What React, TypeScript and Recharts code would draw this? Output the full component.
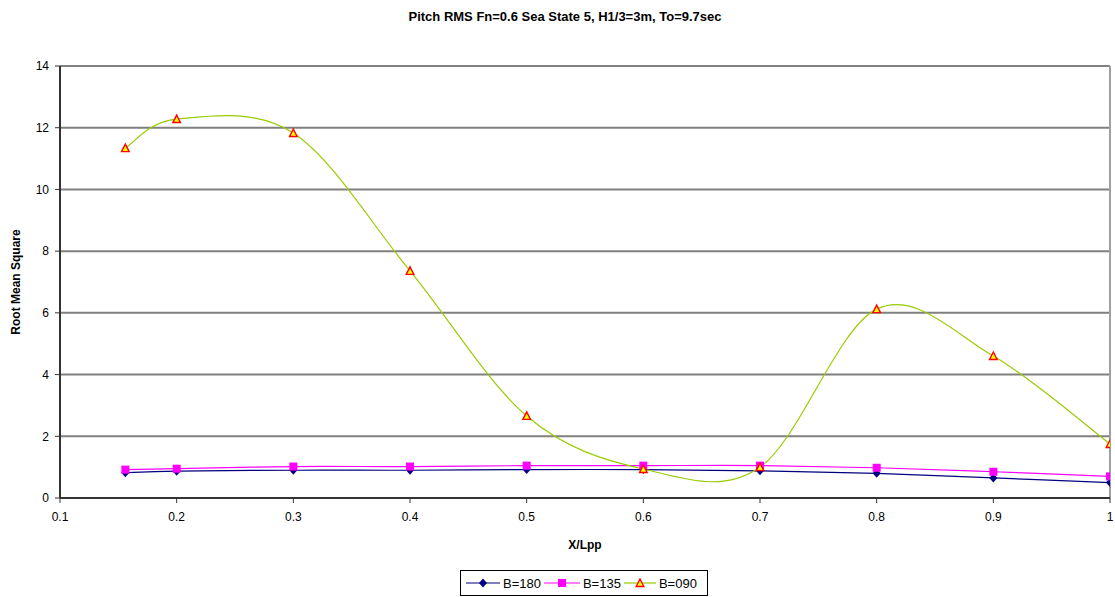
import { LineChart, Line, XAxis, YAxis, CartesianGrid, ReferenceLine, Label } from "recharts";

// X/Lpp stations
const xLpp = [0.156, 0.2, 0.3, 0.4, 0.5, 0.6, 0.7, 0.8, 0.9, 1.0];
// RMS per heading
const b180 = [0.82, 0.87, 0.9, 0.9, 0.92, 0.92, 0.88, 0.8, 0.65, 0.5];
const b135 = [0.92, 0.95, 1.02, 1.02, 1.05, 1.05, 1.05, 0.98, 0.85, 0.7];
const b090 = [11.34, 12.28, 11.83, 7.36, 2.66, 0.94, 1.0, 6.12, 4.6, 1.75];

const xTicks = [0.1, 0.2, 0.3, 0.4, 0.5, 0.6, 0.7, 0.8, 0.9, 1];
const yTicks = [0, 2, 4, 6, 8, 10, 12, 14];

const FONT = "'Liberation Sans', Arial, sans-serif";

const data = xLpp.map((x, i) => ({ x, b180: b180[i], b135: b135[i], b090: b090[i] }));

// Excel-style smoothed line (cardinal spline, control points at 1/6 of neighbour span)
const smoothCurve = (context: any) => {
  let pts: number[][] = [];
  return {
    areaStart() {},
    areaEnd() {},
    lineStart() { pts = []; },
    point(x: number, y: number) { pts.push([+x, +y]); },
    lineEnd() {
      const n = pts.length;
      if (!n) return;
      context.moveTo(pts[0][0], pts[0][1]);
      for (let i = 0; i < n - 1; i++) {
        const p0 = pts[Math.max(i - 1, 0)];
        const p1 = pts[i];
        const p2 = pts[i + 1];
        const p3 = pts[Math.min(i + 2, n - 1)];
        context.bezierCurveTo(
          p1[0] + (p2[0] - p0[0]) / 6, p1[1] + (p2[1] - p0[1]) / 6,
          p2[0] - (p3[0] - p1[0]) / 6, p2[1] - (p3[1] - p1[1]) / 6,
          p2[0], p2[1],
        );
      }
    },
  };
};

const Diamond = ({ cx, cy }: any) => (
  <polygon points={`${cx},${cy - 4.5} ${cx + 4},${cy} ${cx},${cy + 4.5} ${cx - 4},${cy}`} fill="#000080" />
);
const Square = ({ cx, cy }: any) => (
  <rect x={cx - 4} y={cy - 4} width={8} height={8} fill="#FF00FF" />
);
const Triangle = ({ cx, cy }: any) => (
  <polygon points={`${cx},${cy - 4} ${cx + 3.8},${cy + 3.5} ${cx - 3.8},${cy + 3.5}`} fill="#FFFF00" stroke="#FF0000" strokeWidth={1.4} />
);

const legendItems = [
  { name: "B=180", color: "#000080", Icon: Diamond, w: 34 },
  { name: "B=135", color: "#FF00FF", Icon: Square, w: 36 },
  { name: "B=090", color: "#99CC00", Icon: Triangle, w: 32 },
];

export default function App() {
  return (
    <div style={{ position: "absolute", left: 0, top: 0, width: 1115, height: 597, background: "#fff", fontFamily: FONT }}>
      <div style={{ position: "absolute", left: 0, top: 9, width: 1130, textAlign: "center", fontWeight: "bold", fontSize: 13 }}>
        Pitch RMS Fn=0.6 Sea State 5, H1/3=3m, To=9.7sec
      </div>

      <LineChart width={1115} height={597} data={data} margin={{ top: 66, right: 5, bottom: 0, left: 0 }}>
        <CartesianGrid vertical={false} stroke="#808080" strokeWidth={2} />
        <XAxis
          dataKey="x"
          type="number"
          domain={[0.1, 1]}
          ticks={xTicks}
          tickFormatter={(v: number) => String(v)}
          tick={{ fill: "#000", fontSize: 12, fontFamily: FONT }}
          axisLine={{ stroke: "#333", strokeWidth: 2 }}
          tickLine={{ stroke: "#333" }}
          tickSize={5}
          tickMargin={9}
          height={99}
          allowDataOverflow
        >
          <Label value="X/Lpp" position="insideTop" offset={42} style={{ fontWeight: "bold", fontSize: 12, fill: "#000", fontFamily: FONT }} />
        </XAxis>
        <YAxis
          type="number"
          domain={[0, 14]}
          ticks={yTicks}
          tick={{ fill: "#000", fontSize: 12, fontFamily: FONT }}
          axisLine={{ stroke: "#333", strokeWidth: 2 }}
          tickLine={{ stroke: "#333" }}
          tickSize={5}
          tickMargin={6}
          width={60}
        >
          <Label value="Root Mean Square" angle={-90} position="insideLeft" offset={16} style={{ fontWeight: "bold", fontSize: 12, fill: "#000", fontFamily: FONT, textAnchor: "middle" }} />
        </YAxis>
        <ReferenceLine x={1} stroke="#A0A0A0" strokeWidth={2} />
        <Line dataKey="b180" name="B=180" type={smoothCurve as any} stroke="#000080" strokeWidth={1.2} dot={<Diamond />} activeDot={false} isAnimationActive={false} />
        <Line dataKey="b135" name="B=135" type={smoothCurve as any} stroke="#FF00FF" strokeWidth={1.2} dot={<Square />} activeDot={false} isAnimationActive={false} />
        <Line dataKey="b090" name="B=090" type={smoothCurve as any} stroke="#99CC00" strokeWidth={1.2} dot={<Triangle />} activeDot={false} isAnimationActive={false} />
      </LineChart>

      <div style={{ position: "absolute", left: 460, top: 570, width: 246, height: 24, border: "1px solid #000", display: "flex", alignItems: "center", fontSize: 13 }}>
        {legendItems.map(({ name, color, Icon, w }, i) => (
          <div key={name} style={{ display: "flex", alignItems: "center", marginLeft: i === 0 ? 5 : 3 }}>
            <svg width={w} height={14}>
              <line x1={0} y1={7} x2={w} y2={7} stroke={color} strokeWidth={1.2} />
              <Icon cx={w / 2} cy={7} />
            </svg>
            <span style={{ marginLeft: 3 }}>{name}</span>
          </div>
        ))}
      </div>
    </div>
  );
}
